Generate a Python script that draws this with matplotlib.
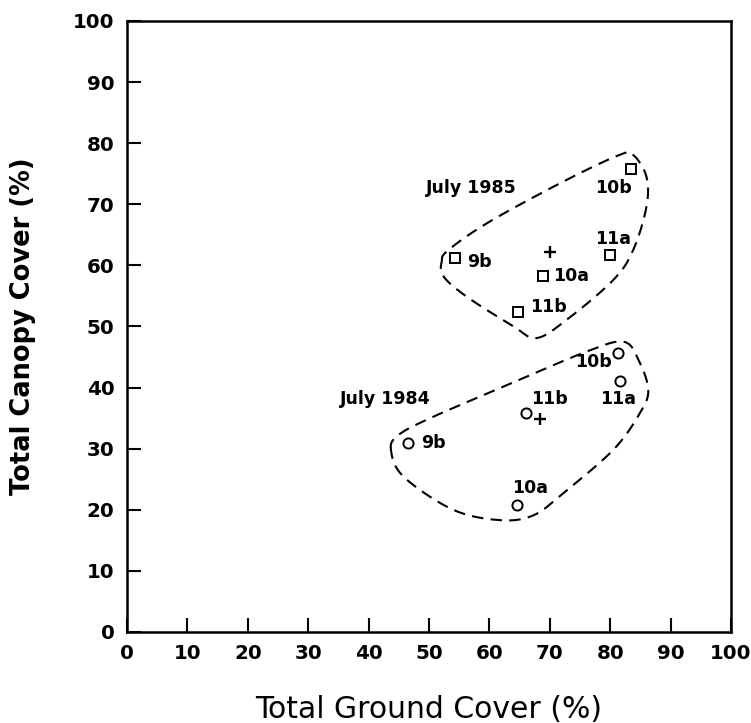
import numpy as np
import matplotlib
matplotlib.use("Agg")
from matplotlib import pyplot as plt

plt.rcParams['font.family'] = ['DejaVu Sans']

# plot means, July 1985 (squares) and July 1984 (circles)
sites = ['9b', '10a', '10b', '11a', '11b']
ground85 = [54.3, 68.8, 83.4, 80.0, 64.8]
canopy85 = [61.2, 58.3, 75.7, 61.7, 52.4]
ground84 = [46.6, 64.6, 81.3, 81.6, 66.0]
canopy84 = [30.9, 20.7, 45.7, 41.1, 35.9]

# overall means (+)
mean85 = (70.0, 62.2)
mean84 = (68.4, 34.8)

# label positions (data units)
lab85_x = [58.4, 73.6, 80.5, 80.5, 69.8]
lab85_y = [60.6, 58.2, 72.6, 64.3, 53.2]
lab84_x = [50.7, 66.8, 77.2, 81.3, 70.0]
lab84_y = [30.9, 23.5, 44.2, 38.2, 38.2]

# hand drawn dashed envelopes
env85_x = [52.1, 53.2, 60.1, 72.8, 81.6, 83.8, 86.0, 86.0, 83.8, 80.5, 72.8, 67.8, 64.0, 56.2, 52.4]
env85_y = [60.6, 62.5, 67.2, 74.0, 78.1, 78.1, 74.5, 69.6, 62.5, 57.6, 51.1, 48.1, 50.0, 54.9, 58.2]
env84_x = [43.7, 44.9, 50.2, 62.9, 76.1, 82.2, 84.7, 86.3, 84.9, 80.5, 72.2, 67.3, 61.8, 54.0, 45.8]
env84_y = [29.8, 32.2, 35.0, 40.4, 45.9, 47.5, 44.5, 39.6, 35.8, 29.8, 22.7, 19.1, 18.3, 20.0, 25.4]


def closed_curve(xs, ys, n=20):
    # catmull-rom through the outline vertices so the loop looks hand drawn
    p = np.column_stack([xs, ys])
    m = len(p)
    out = []
    for i in range(m):
        p0, p1, p2, p3 = p[i - 1], p[i], p[(i + 1) % m], p[(i + 2) % m]
        t = np.linspace(0, 1, n, endpoint=False)[:, None]
        out.append(0.5 * ((2 * p1) + (-p0 + p2) * t + (2 * p0 - 5 * p1 + 4 * p2 - p3) * t ** 2
                          + (-p0 + 3 * p1 - 3 * p2 + p3) * t ** 3))
    out = np.vstack(out + [p[:1]])
    return out[:, 0], out[:, 1]


fig = plt.figure(figsize=(7.51, 7.23), dpi=100)
ax = fig.add_axes([0.1691, 0.1259, 0.8043, 0.8451])

for ex, ey in [(env85_x, env85_y), (env84_x, env84_y)]:
    cx, cy = closed_curve(ex, ey)
    ax.plot(cx, cy, color='black', lw=1.5, dashes=(5.5, 3.5))

ax.plot(ground85, canopy85, 's', ms=7.3, mfc='white', mec='black', mew=1.4)
ax.plot(ground84, canopy84, 'o', ms=7.3, mfc='white', mec='black', mew=1.4)
ax.plot(*mean85, '+', ms=9, color='black', mew=1.7)
ax.plot(*mean84, '+', ms=9, color='black', mew=1.7)

for s, x, y in zip(sites, lab85_x, lab85_y):
    ax.text(x, y, s, ha='center', va='center', fontsize=12.5, fontweight='bold')
for s, x, y in zip(sites, lab84_x, lab84_y):
    ax.text(x, y, s, ha='center', va='center', fontsize=12.5, fontweight='bold')

ax.text(57.0, 72.7, 'July 1985', ha='center', va='center', fontsize=12.5, fontweight='bold')
ax.text(42.7, 38.2, 'July 1984', ha='center', va='center', fontsize=12.5, fontweight='bold')

ax.set_xlim(0, 100)
ax.set_ylim(0, 100)
ax.set_xticks(range(0, 101, 10))
ax.set_yticks(range(0, 101, 10))
ax.tick_params(direction='in', length=10, width=1.5, labelsize=14.3, pad=9,
               top=False, right=False)
for lab in ax.get_xticklabels() + ax.get_yticklabels():
    lab.set_fontweight('bold')
for sp in ax.spines.values():
    sp.set_linewidth(1.8)

ax.set_xlabel('Total Ground Cover (%)', fontsize=21.5)
ax.set_ylabel('Total Canopy Cover (%)', fontsize=18.5, fontweight='bold')
ax.xaxis.set_label_coords(0.5, -0.103)
ax.yaxis.set_label_coords(-0.15, 0.5)

fig.savefig('out.png', dpi=100)
